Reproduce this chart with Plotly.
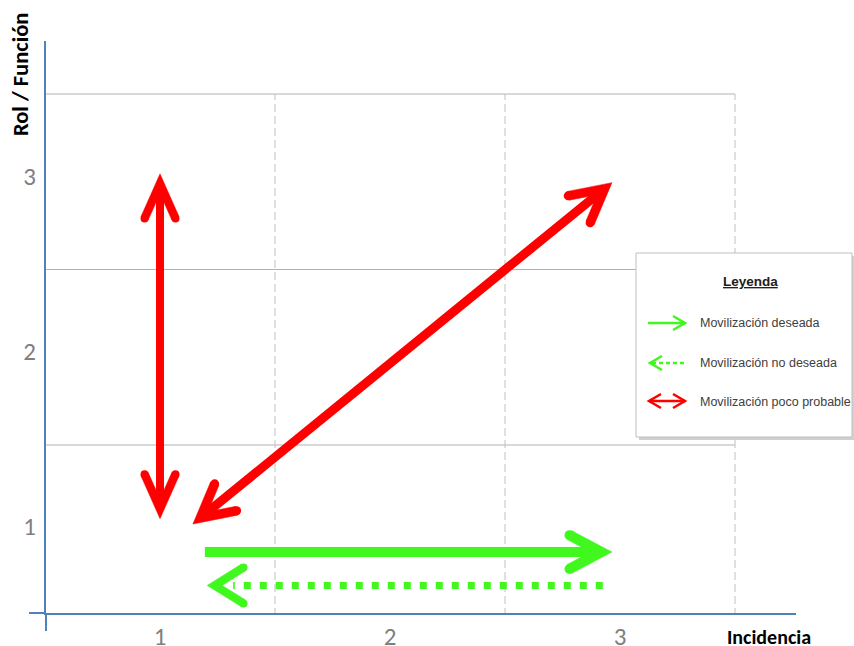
import math
import plotly.graph_objects as go

# ---------------- data ----------------
x_ticks = [1, 2, 3]
x_ticktext = ["1", "2", "3"]
y_ticks = [1, 2, 3]
y_ticktext = ["1", "2", "3"]
grid_pos = [1.5, 2.5, 3.5]

# arrows: start -> end (data coordinates)
red_vert_x = [1.0, 1.0]
red_vert_y = [1.08, 3.045]
red_diag_x = [1.143, 2.965]
red_diag_y = [1.05, 2.995]
green_solid_x = [1.195, 2.965]
green_solid_y = [0.89, 0.89]
green_dot_x = [2.925, 1.205]
green_dot_y = [0.70, 0.70]

legend_title = "Leyenda"
legend_labels = ["Movilización deseada", "Movilización no deseada", "Movilización poco probable"]
x_title = "Incidencia"
y_title = "Rol / Función"

# ---------------- layout constants ----------------
W = 854
KY = 664 / 646           # page is photographed into 646 px height
H = 664
ML, MR = 46, 58
MT = 40 * KY
MB = H - 612 * KY
X_RANGE = [0.5043, 3.7652]
Y_RANGE = [0.5427, 3.802]
PW, PH = W - ML - MR, H - MT - MB
SX = PW / (X_RANGE[1] - X_RANGE[0])
SY = (PH / KY) / (Y_RANGE[1] - Y_RANGE[0])   # visual px per unit

RED = "#ff0000"
GREEN = "#40f71e"
AXIS = "#4f81bd"
FONT = "Carlito, Calibri, Liberation Sans, Arial, sans-serif"


def head(tip_x, tip_y, from_x, from_y, length, angle, width):
    """Thick chevron arrowhead with outer tip at (tip_x, tip_y)."""
    ux = (tip_x - from_x) * SX
    uy = (tip_y - from_y) * SY
    n = math.hypot(ux, uy)
    ux, uy = ux / n, uy / n
    a = math.radians(angle)
    h = (width / 2) / math.sin(a)
    vx, vy = -ux * h, -uy * h
    nx_, ny_ = -2 * ux * h, -2 * uy * h
    poly = {}
    caps = []
    for s in (1, -1):
        c, si = math.cos(s * a), math.sin(s * a)
        dx = -ux * c - (-uy) * si
        dy = -ux * si + (-uy) * c
        ox, oy = (-dy, dx) if s == 1 else (dy, -dx)
        ex, ey = vx + dx * length, vy + dy * length
        poly[s] = [(ex + ox * width / 2, ey + oy * width / 2),
                   (ex - ox * width / 2, ey - oy * width / 2)]
        caps.append((ex, ey))
    pts = [(0, 0), poly[1][0], poly[1][1], (nx_, ny_), poly[-1][1], poly[-1][0], (0, 0)]
    px = [tip_x + p[0] / SX for p in pts]
    py = [tip_y + p[1] / SY for p in pts]
    cx = [tip_x + p[0] / SX for p in caps]
    cy = [tip_y + p[1] / SY for p in caps]
    return px, py, cx, cy, (tip_x + vx / SX, tip_y + vy / SY)


fig = go.Figure()


def add_line(xs, ys, color, width, dash="solid"):
    fig.add_trace(go.Scatter(x=xs, y=ys, mode="lines",
                             line=dict(color=color, width=width, dash=dash),
                             hoverinfo="skip", showlegend=False, cliponaxis=False))


def add_head(hd, color, width):
    px, py, cx, cy, _ = hd
    fig.add_trace(go.Scatter(x=px, y=py, mode="lines", fill="toself", fillcolor=color,
                             line=dict(color=color, width=0.5),
                             hoverinfo="skip", showlegend=False))
    fig.add_trace(go.Scatter(x=cx, y=cy, mode="markers",
                             marker=dict(color=color, size=width, line=dict(width=0)),
                             hoverinfo="skip", showlegend=False, cliponaxis=False))


def double_arrow(xs, ys, color, width, length, angle):
    h1 = head(xs[1], ys[1], xs[0], ys[0], length, angle, width)
    h0 = head(xs[0], ys[0], xs[1], ys[1], length, angle, width)
    add_line([h0[4][0], h1[4][0]], [h0[4][1], h1[4][1]], color, width)
    add_head(h1, color, width)
    add_head(h0, color, width)


double_arrow(red_vert_x, red_vert_y, RED, 8, 38, 24)
double_arrow(red_diag_x, red_diag_y, RED, 9, 37, 28)

hg = head(green_solid_x[1], green_solid_y[1], green_solid_x[0], green_solid_y[0], 36, 28, 10)
add_line([green_solid_x[0], hg[4][0]], green_solid_y, GREEN, 10)
add_head(hg, GREEN, 10)

hd = head(green_dot_x[1], green_dot_y[1], green_dot_x[0], green_dot_y[0], 34, 32, 8)
add_line([green_dot_x[0], green_dot_x[1] + 26 / SX], green_dot_y, GREEN, 7, dash="7px,9px")
add_head(hd, GREEN, 8)

shapes = []
for g in grid_pos:
    shapes.append(dict(type="line", xref="x", yref="y", layer="below",
                       x0=X_RANGE[0], x1=grid_pos[-1], y0=g, y1=g,
                       line=dict(color="#b3b3b3", width=1)))
    shapes.append(dict(type="line", xref="x", yref="y", layer="below",
                       x0=g, x1=g, y0=Y_RANGE[0] - 3 / SY, y1=grid_pos[-1],
                       line=dict(color="#c0c0c0", width=1, dash="8px,4px")))


def px2p(px, py):
    """Reference-image pixel -> paper coords."""
    return (px - ML) / PW, (H - MB - py * KY) / PH


ax0, ay0 = px2p(29, 612)
ax1, _ = px2p(46, 612)
shapes.append(dict(type="line", xref="paper", yref="paper", x0=ax0, x1=ax1, y0=ay0, y1=ay0,
                   line=dict(color=AXIS, width=2)))
bx, by0 = px2p(46, 612)
_, by1 = px2p(46, 630)
shapes.append(dict(type="line", xref="paper", yref="paper", x0=bx, x1=bx, y0=by0, y1=by1,
                   line=dict(color=AXIS, width=2)))

s0 = px2p(639, 255)
s1 = px2p(855, 439)
shapes.append(dict(type="rect", xref="paper", yref="paper", x0=s0[0], y0=s0[1], x1=s1[0], y1=s1[1],
                   fillcolor="rgba(120,120,120,0.35)", line=dict(width=0), layer="above"))
b0 = px2p(636, 252)
b1 = px2p(852, 436)
shapes.append(dict(type="rect", xref="paper", yref="paper", x0=b0[0], y0=b0[1], x1=b1[0], y1=b1[1],
                   fillcolor="white", line=dict(color="#bfbfbf", width=1), layer="above"))


def legend_arrow(x_from, x_to, py, color, dash="solid", both=False):
    p0 = px2p(x_from, py)
    p1 = px2p(x_to, py)
    shapes.append(dict(type="line", xref="paper", yref="paper", x0=p0[0], y0=p0[1],
                       x1=p1[0], y1=p1[1], line=dict(color=color, width=2.5, dash=dash), layer="above"))
    ends = [(x_to, x_from)] + ([(x_from, x_to)] if both else [])
    for tip, frm in ends:
        d = 1 if tip > frm else -1
        a = px2p(tip - d * 12, py - 7)
        t = px2p(tip, py)
        c = px2p(tip - d * 12, py + 7)
        shapes.append(dict(type="path", xref="paper", yref="paper",
                           path=f"M{a[0]},{a[1]} L{t[0]},{t[1]} L{c[0]},{c[1]}",
                           line=dict(color=color, width=2.5), layer="above"))


legend_arrow(648, 685, 322, GREEN)
legend_arrow(684, 650, 362, GREEN, dash="4px,3px")
legend_arrow(649, 685, 400, RED, both=True)

annotations = []
t = px2p(750, 280)
annotations.append(dict(xref="paper", yref="paper", x=t[0], y=t[1], showarrow=False,
                        xanchor="center", yanchor="middle",
                        text=f"<b><u>{legend_title}</u></b>",
                        font=dict(family="Liberation Sans, Arial", size=13.5, color="#202020")))
for lab, py in zip(legend_labels, [322, 362, 401]):
    p = px2p(698, py)
    annotations.append(dict(xref="paper", yref="paper", x=p[0], y=p[1],
                            xanchor="left", yanchor="middle",
                            showarrow=False, text=lab,
                            font=dict(family="Liberation Sans, Arial", size=12.5, color="#404040")))
p = px2p(769, 636)
annotations.append(dict(xref="paper", yref="paper", x=p[0], y=p[1], showarrow=False,
                        xanchor="center", yanchor="middle",
                        text=f"<b>{x_title}</b>",
                        font=dict(family=FONT, size=20, color="#000000")))
p = px2p(21, 74)
annotations.append(dict(xref="paper", yref="paper", x=p[0], y=p[1], showarrow=False, textangle=-90,
                        xanchor="center", yanchor="middle",
                        text=f"<b>{y_title}</b>",
                        font=dict(family=FONT, size=22.5, color="#000000")))

fig.update_layout(
    width=W, height=H,
    margin=dict(l=ML, r=MR, t=MT, b=MB, pad=0),
    paper_bgcolor="white", plot_bgcolor="white",
    shapes=shapes, annotations=annotations,
    xaxis=dict(range=X_RANGE, showgrid=False, zeroline=False, showline=True,
               linecolor=AXIS, linewidth=2, tickvals=x_ticks, ticktext=x_ticktext,
               ticks="", tickfont=dict(family=FONT, size=25, color="#7f7f7f"),
               fixedrange=True),
    yaxis=dict(range=Y_RANGE, showgrid=False, zeroline=False, showline=True,
               linecolor=AXIS, linewidth=2, tickvals=y_ticks, ticktext=y_ticktext,
               ticks="", ticklabelstandoff=3, ticklabelshift=-6,
               tickfont=dict(family=FONT, size=25, color="#7f7f7f"),
               fixedrange=True),
)

fig.write_html("out.html", config={"displayModeBar": False},
               post_script="document.body.style.margin='0';document.body.style.overflow='hidden';")
